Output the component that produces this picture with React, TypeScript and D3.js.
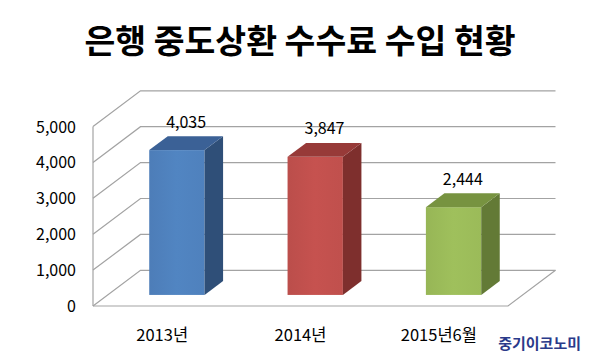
import React from "react";
import * as d3 from "d3";

const categories = ["2013년", "2014년", "2015년6월"];
const values = [4035, 3847, 2444];
const valueLabels = ["4,035", "3,847", "2,444"];
const yTicks = [0, 1000, 2000, 3000, 4000, 5000];
const title = "은행 중도상환 수수료 수입 현황";
const source = "중기이코노미";

const frontColors = ["#4f81bd", "#c0504d", "#9bbb59"];
const sideColors = ["#2f4f78", "#7e2f2d", "#637a36"];
const topColors = ["#3b6196", "#973a38", "#779340"];

export default function App() {
  const W = 600, H = 360;
  const DX = 47.5, DY = -35.7;
  const D0 = 0.31, D1 = 0.7;
  const x = d3.scaleBand<string>().domain(categories).range([93, 508]).padding(0);
  const y = d3.scaleLinear().domain([0, 5000]).range([306, 126.5]);
  const bw = x.bandwidth() * 0.4;
  const fmt = d3.format(",");
  const grid = "#a3a3a3";
  const font = "'Noto Sans CJK KR', 'Malgun Gothic', sans-serif";

  const x0 = x.range()[0], x1 = x.range()[1];
  const yb = y(0);

  return (
    <svg width={W} height={H} style={{ position: "absolute", left: 0, top: 0, background: "#fff" }} fontFamily={font}>
      <defs>
        {frontColors.map((c, i) => (
          <linearGradient key={i} id={`g${i}`} x1="0" x2="1" y1="0" y2="0">
            <stop offset="0" stopColor={d3.color(c)!.darker(0.08).toString()} />
            <stop offset="0.5" stopColor={d3.color(c)!.brighter(0.08).toString()} />
            <stop offset="1" stopColor={c} />
          </linearGradient>
        ))}
      </defs>
      <text x={300} y={52.5} textAnchor="middle" fontSize={33.5} fontWeight="bold" fill="#000">{title}</text>

      {/* walls */}
      <g stroke={grid} strokeWidth={1.2} fill="none">
        {yTicks.map((t) => (
          <path key={t} d={`M${x0},${y(t)} L${x0 + DX},${y(t) + DY} L${x1 + DX},${y(t) + DY}`} />
        ))}
        <line x1={x0} y1={y(5000)} x2={x0} y2={yb} />
        <path d={`M${x0},${yb} L${x1},${yb} L${x1 + DX},${yb + DY}`} />
      </g>

      {yTicks.map((t) => (
        <text key={t} x={76} y={y(t) + 6} textAnchor="end" fontSize={16} fill="#000">{fmt(t)}</text>
      ))}

      {values.map((v, i) => {
        const cx = x(categories[i])! + x.bandwidth() / 2;
        const fx = cx - bw / 2 + DX * D0;
        const fy0 = yb + DY * D0;
        const fy1 = y(v) + DY * D0;
        const dd = D1 - D0;
        const ddx = DX * dd, ddy = DY * dd;
        return (
          <g key={i}>
            <rect x={fx} y={fy1} width={bw} height={fy0 - fy1} fill={`url(#g${i})`} />
            <path d={`M${fx + bw},${fy1} L${fx + bw + ddx},${fy1 + ddy} L${fx + bw + ddx},${fy0 + ddy} L${fx + bw},${fy0} Z`} fill={sideColors[i]} />
            <path d={`M${fx},${fy1} L${fx + ddx},${fy1 + ddy} L${fx + bw + ddx},${fy1 + ddy} L${fx + bw},${fy1} Z`} fill={topColors[i]} />
            <text x={fx + bw / 2 + ddx / 2} y={fy1 + ddy - 8.5} textAnchor="middle" fontSize={16} fill="#000">{valueLabels[i]}</text>
            <text x={cx} y={340.5} textAnchor="middle" fontSize={16.5} fill="#000">{categories[i]}</text>
          </g>
        );
      })}

      <text x={581} y={348.5} textAnchor="end" fontSize={15} fontWeight="bold" fill="#2a3a8a">{source}</text>
    </svg>
  );
}
